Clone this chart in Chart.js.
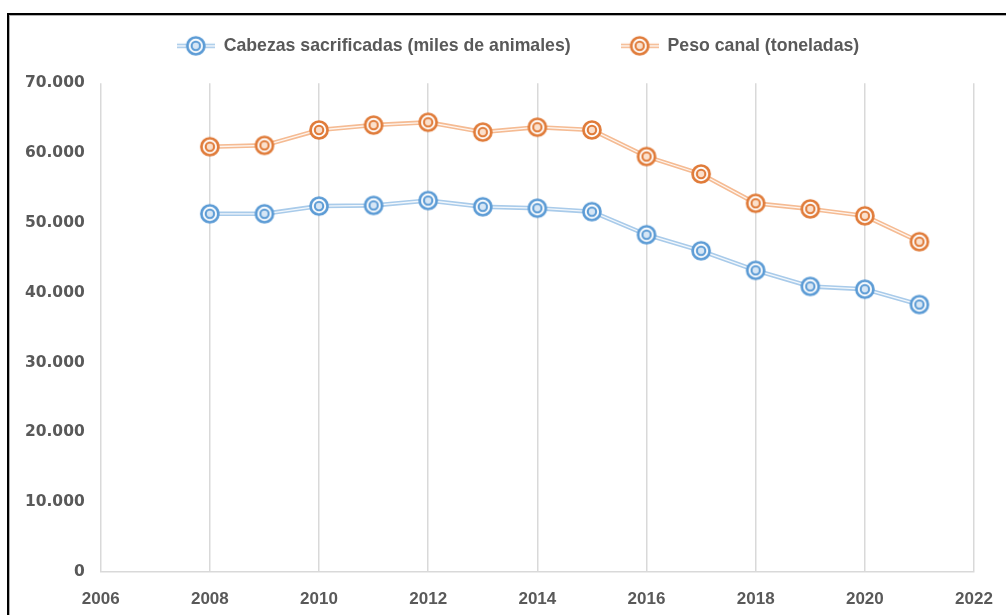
<!DOCTYPE html>
<html>
<head>
<meta charset="utf-8">
<script src="https://cdn.jsdelivr.net/npm/chart.js@4.4.1/dist/chart.umd.min.js"></script>
<style>
  html, body { margin: 0; padding: 0; background: #fff; }
  #wrap { position: relative; width: 1006px; height: 615px; overflow: hidden; }
  #chart { position: absolute; left: 0; top: 0; }
  #frame { position: absolute; left: 7px; top: 13px; width: 1100px; height: 700px;
           border-left: 2px solid #000; border-top: 2px solid #000;
           box-shadow: inset 1px 1px 0 #b0b0b0; pointer-events: none; }
</style>
</head>
<body>
<div id="wrap">
  <canvas id="chart" width="1006" height="615"></canvas>
  <div id="frame"></div>
</div>
<script>
// data
var years = [2008, 2009, 2010, 2011, 2012, 2013, 2014, 2015, 2016, 2017, 2018, 2019, 2020, 2021];
var cabezas = [51300, 51300, 52400, 52500, 53200, 52300, 52100, 51600, 48300, 46000, 43200, 40900, 40500, 38300];
var peso = [60900, 61100, 63300, 64000, 64400, 63000, 63700, 63300, 59500, 57000, 52800, 52000, 51000, 47300];
var seriesNames = ['Cabezas sacrificadas (miles de animales)', 'Peso canal (toneladas)'];
var xTicks = [2006, 2022, 2];   // min, max, step
var yTicks = [0, 70000, 10000];

var blue = '#5b9bd5', blueLine = '#a9cbea', blueIn = '#d6e6f5';
var orange = '#e07b39', orangeLine = '#f5bb93', orangeIn = '#fbe0cc';

function pts(vals) {
    return years.map(function (y, i) { return { x: y, y: vals[i] }; });
}

// double circle marker
function drawMarker(c, cx, cy, col, inner) {
    c.beginPath();
    c.arc(cx, cy, 8.5, 0, Math.PI * 2);
    c.fillStyle = '#fff';
    c.fill();
    c.lineWidth = 2.7;
    c.strokeStyle = col;
    c.stroke();
    c.beginPath();
    c.arc(cx, cy, 4.2, 0, Math.PI * 2);
    c.fillStyle = inner;
    c.fill();
    c.lineWidth = 2.1;
    c.stroke();
}

function markerImg(col, inner) {
    var cv = document.createElement('canvas');
    cv.width = 24; cv.height = 24;
    drawMarker(cv.getContext('2d'), 12, 12, col, inner);
    return cv;
}

function legendImg(col, line, inner) {
    var cv = document.createElement('canvas');
    cv.width = 38; cv.height = 24;
    var c = cv.getContext('2d');
    c.strokeStyle = line;
    c.lineWidth = 4.5;
    c.beginPath(); c.moveTo(0, 12); c.lineTo(38, 12); c.stroke();
    c.strokeStyle = 'rgba(255,255,255,0.85)';
    c.lineWidth = 1.3;
    c.beginPath(); c.moveTo(0, 12); c.lineTo(38, 12); c.stroke();
    drawMarker(c, 19, 12, col, inner);
    return cv;
}

var legendIcons = [legendImg(blue, blueLine, blueIn), legendImg(orange, orangeLine, orangeIn)];

function lineSet(vals, col, w, ord) {
    return { data: pts(vals), borderColor: col, borderWidth: w, pointRadius: 0,
             fill: false, tension: 0, order: ord };
}
function markSet(vals, img) {
    return { data: pts(vals), showLine: false, pointStyle: img, pointRadius: 9,
             order: 1 };
}

// the legend in the reference sits a little right of centre
var legendShift = {
    id: 'legendShift',
    afterLayout: function (chart) {
        chart.legend.left += 31;
        chart.legend.right += 31;
    }
};

var ctx = document.getElementById('chart').getContext('2d');
var chart = new Chart(ctx, {
    type: 'line',
    data: {
        datasets: [
            markSet(cabezas, markerImg(blue, blueIn)),
            markSet(peso, markerImg(orange, orangeIn)),
            lineSet(cabezas, 'rgba(255,255,255,0.85)', 1.3, 2),
            lineSet(peso, 'rgba(255,255,255,0.85)', 1.3, 2),
            lineSet(cabezas, blueLine, 4.5, 3),
            lineSet(peso, orangeLine, 4.5, 3)
        ]
    },
    options: {
        responsive: false,
        animation: false,
        layout: { padding: { left: 0, right: 32, top: -13, bottom: 0 } },
        plugins: {
            tooltip: { enabled: false },
            legend: {
                position: 'top',
                labels: {
                    usePointStyle: true,
                    pointStyleWidth: 38,
                    padding: 50,
                    color: '#595959',
                    font: { family: '"Liberation Sans Narrow", "Liberation Sans", sans-serif', size: 17.7, weight: 'bold' },
                    generateLabels: function () {
                        return seriesNames.map(function (n, i) {
                            return { text: n, pointStyle: legendIcons[i], fontColor: '#595959',
                                     lineWidth: 0, strokeStyle: 'rgba(0,0,0,0)', fillStyle: 'rgba(0,0,0,0)', datasetIndex: i };
                        });
                    }
                }
            }
        },
        scales: {
            x: {
                type: 'linear',
                min: xTicks[0], max: xTicks[1],
                afterFit: function (s) { s.height = 43; s.paddingLeft = 0; s.paddingRight = 0; },
                ticks: {
                    stepSize: xTicks[2],
                    padding: 17,
                    color: '#595959',
                    font: { family: '"Liberation Sans Narrow", "Liberation Sans", sans-serif', size: 17, weight: 'bold' },
                    callback: function (v) { return String(v); }
                },
                grid: { color: '#d9d9d9', lineWidth: 1.5, drawTicks: false },
                border: { color: '#d9d9d9', width: 1.5 }
            },
            // empty band between legend and plot
            gap: {
                type: 'linear',
                position: 'top',
                afterFit: function (s) { s.height = 18.5; s.paddingLeft = 0; s.paddingRight = 0; },
                ticks: { display: false },
                grid: { display: false, drawTicks: false },
                border: { display: false }
            },
            y: {
                min: yTicks[0], max: yTicks[1],
                afterFit: function (s) { s.width = 100.7; },
                ticks: {
                    stepSize: yTicks[2],
                    padding: 16,
                    color: '#595959',
                    font: { family: '"DejaVu Sans", sans-serif', size: 15.5, weight: 'bold' },
                    callback: function (v) { return v.toLocaleString('de-DE'); }
                },
                grid: { display: false, drawTicks: false },
                border: { display: false }
            }
        }
    },
    plugins: [legendShift]
});
</script>
</body>
</html>
